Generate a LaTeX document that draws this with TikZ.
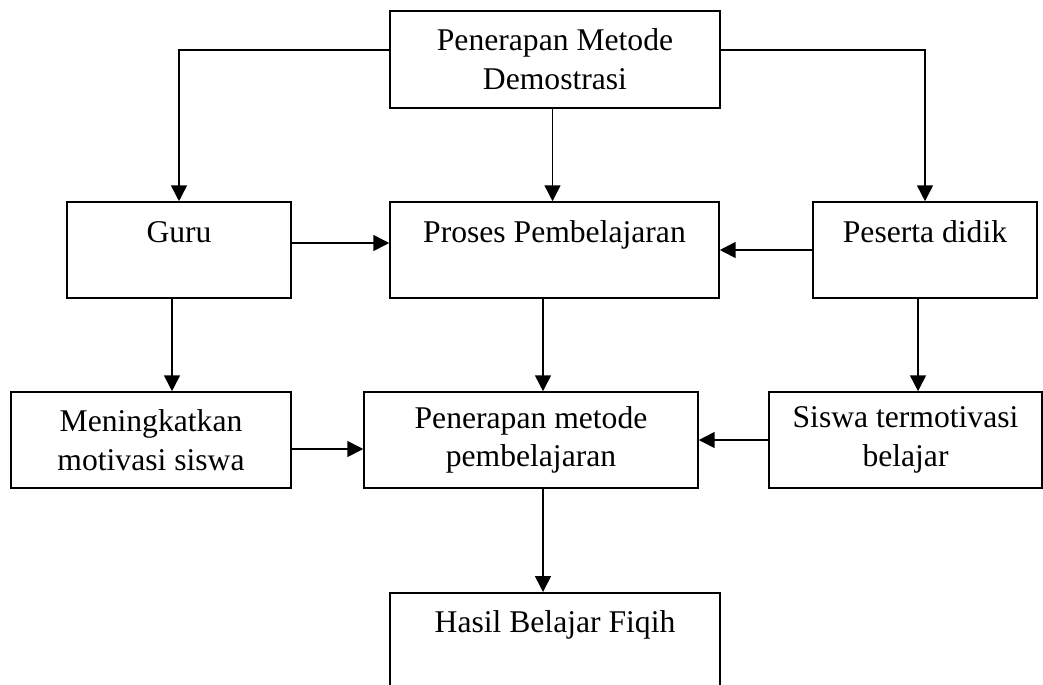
\documentclass[tikz,border=0pt]{standalone}
\usepackage{fontspec}
\setmainfont{Liberation Serif}
\usepackage{tikz}
\usetikzlibrary{arrows.meta, positioning}
\tikzset{box/.style={draw, line width=0.9pt, inner sep=0pt, align=center, font=\fontsize{18}{22}\selectfont},
  toptxt/.style={box, text height=0.8cm, text depth=1.12cm},
  arr/.style={line width=0.9pt, -{Triangle[length=9pt, width=9pt]}}}

\begin{document}
\begin{tikzpicture}[x=0.02cm, y=-0.02cm]
\useasboundingbox (0,0) rectangle (1043,684);
\node[box, minimum width=6.6cm, minimum height=1.94cm] (demo) at (555,59.5) {Penerapan Metode\\Demostrasi};
\node[toptxt, minimum width=4.48cm] (guru) at (179,250) {Guru};
\node[toptxt, minimum width=6.58cm] (proses) at (554.5,250) {Proses Pembelajaran};
\node[toptxt, minimum width=4.48cm] (peserta) at (925,250) {Peserta didik};
\node[box, minimum width=5.6cm, minimum height=1.92cm] (motivasi) at (151,440) {Meningkatkan\\motivasi siswa};
\node[box, minimum width=6.68cm, minimum height=1.92cm] (metode) at (531,440) {Penerapan metode\\pembelajaran};
\node[box, minimum width=5.46cm, minimum height=1.92cm] (siswa) at (905.5,440) {Siswa termotivasi\\belajar};
\node[box, anchor=north, text height=0.8cm, text depth=1.6cm, minimum width=6.6cm] (hasil) at (555,592) {Hasil Belajar Fiqih};

\draw[arr] ([yshift=0.19cm]demo.west) -| (guru.north);
\draw[arr] ([yshift=0.19cm]demo.east) -| (peserta.north);
\draw[arr] ([xshift=-0.05cm]demo.south) -- ([xshift=-0.05cm]demo.south |- proses.north);
\draw[arr] ([yshift=0.14cm]guru.east) -- ([yshift=0.14cm]guru.east -| proses.west);
\draw[arr] (peserta.west) -- (proses.east);
\draw[arr] ([xshift=-0.14cm]guru.south) -- ([xshift=-0.14cm]guru.south |- motivasi.north);
\draw[arr] ([xshift=-0.23cm]proses.south) -- ([xshift=-0.23cm]proses.south |- metode.north);
\draw[arr] ([xshift=-0.14cm]peserta.south) -- ([xshift=-0.14cm]peserta.south |- siswa.north);
\draw[arr] ([yshift=-0.18cm]motivasi.east) -- ([yshift=-0.18cm]motivasi.east -| metode.west);
\draw[arr] (siswa.west) -- (siswa.west -| metode.east);
\draw[arr] ([xshift=0.24cm]metode.south) -- ([xshift=0.24cm]metode.south |- hasil.north);
\end{tikzpicture}
\end{document}
